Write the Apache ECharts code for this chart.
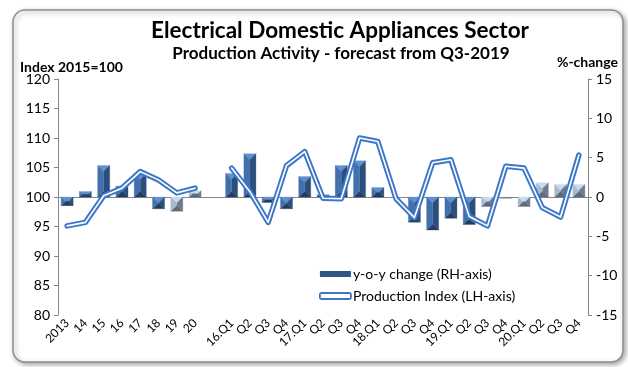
<!DOCTYPE html>
<html>
<head>
<meta charset="utf-8">
<script src="https://cdn.jsdelivr.net/npm/echarts@6/dist/echarts.min.js"></script>
<style>
  html, body { margin: 0; padding: 0; background: #fff; }
  #chart { width: 628px; height: 367px; }
</style>
</head>
<body>
<div id="chart"></div>
<script>
// categories: annual block, an empty gap, then quarters
var categories = ['2013', '14', '15', '16', '17', '18', '19', '20', '',
  '16.Q1', 'Q2', 'Q3', 'Q4', '17.Q1', 'Q2', 'Q3', 'Q4',
  '18.Q1', 'Q2', 'Q3', 'Q4', '19.Q1', 'Q2', 'Q3', 'Q4',
  '20.Q1', 'Q2', 'Q3', 'Q4'];

// production index, 2015=100 (LH axis)
var productionIndex = [95.1, 95.7, 100.2, 101.5, 104.3, 102.9, 100.7, 101.5, null,
  104.9, 100.9, 95.7, 105.3, 107.7, 99.8, 99.7, 110.0,
  109.4, 99.7, 96.5, 105.8, 106.3, 96.7, 95.1, 105.2,
  104.9, 98.2, 96.6, 107.1];

// y-o-y change in %, actual figures (RH axis)
var yoyActual = [-1.1, 0.7, 4.0, 1.4, 3.0, -1.5, null, null, null,
  3.0, 5.5, -0.7, -1.5, 2.6, 0.3, 4.0, 4.6,
  1.2, 0, -3.2, -4.2, -2.7, -3.5, null, null,
  null, null, null, null];

// y-o-y change in %, forecast figures (RH axis)
var yoyForecast = [null, null, null, null, null, null, -1.8, 0.8, null,
  null, null, null, null, null, null, null, null,
  null, null, null, null, null, null, -1.2, -0.1,
  -1.2, 1.8, 1.6, 1.6];

var leftTicks = { min: 80, max: 120, step: 5 };
var rightTicks = { min: -15, max: 15, step: 5 };

var FONT = 'Lato, "Open Sans", sans-serif';
var BAR_NAME = 'y-o-y change (RH-axis)';
var LINE_NAME = 'Production Index (LH-axis)';

// bevelled bar: four faces meeting at a ridge
function bevelBar(faces) {
  return function (params, api) {
    var v = api.value(1);
    if (v == null || isNaN(v)) return;
    var i = api.value(0);
    var top = api.coord([i, v]);
    var base = api.coord([i, 0]);
    var bw = api.size([1, 0])[0] * 0.66;
    var x0 = top[0] - bw / 2, x1 = top[0] + bw / 2;
    var y0 = Math.min(top[1], base[1]), y1 = Math.max(top[1], base[1]);
    if (y1 - y0 < 0.5) return;
    if (y1 - y0 < 1.2) y1 = y0 + 1.2;
    var h = y1 - y0;
    var cx = (x0 + x1) / 2, cy = (y0 + y1) / 2;
    var LT, RT, LB, RB;
    if (h >= bw) {
      LT = RT = [cx, y0 + bw / 2];
      LB = RB = [cx, y1 - bw / 2];
    } else {
      LT = LB = [x0 + h / 2, cy];
      RT = RB = [x1 - h / 2, cy];
    }
    function face(pts, c) {
      return { type: 'polygon', shape: { points: pts }, style: { fill: c, stroke: c, lineWidth: 0.3 } };
    }
    return {
      type: 'group',
      children: [
        face([[x0, y0], [x1, y0], RT, LT], faces.top),
        face([[x1, y0], [x1, y1], RB, RT], faces.right),
        face([[x1, y1], [x0, y1], LB, RB], faces.bottom),
        face([[x0, y1], [x0, y0], LT, LB], faces.left)
      ]
    };
  };
}

function pairs(arr) {
  return arr.map(function (v, i) { return [i, v]; });
}

var chart = echarts.init(document.getElementById('chart'));

chart.setOption({
  animation: false,
  textStyle: { fontFamily: FONT },
  graphic: [
    {
      type: 'rect', z: -10, silent: true,
      shape: { x: 13, y: 10, width: 610, height: 352, r: 12 },
      style: { fill: '#fff', stroke: '#8e8e8e', lineWidth: 1.5,
        shadowBlur: 5, shadowOffsetX: 2, shadowOffsetY: 2, shadowColor: 'rgba(0,0,0,0.35)' }
    },
    {
      type: 'text', x: 340, y: 31, z: 10,
      style: { text: 'Electrical Domestic Appliances Sector', font: 'bold 22.5px ' + FONT, fill: '#000',
        align: 'center', verticalAlign: 'middle' }
    },
    {
      type: 'text', x: 341, y: 54, z: 10,
      style: { text: 'Production Activity - forecast from Q3-2019', font: 'bold 17px ' + FONT,
        fill: '#000', align: 'center', verticalAlign: 'middle' }
    },
    {
      type: 'text', x: 20, y: 67, z: 10,
      style: { text: 'Index 2015=100', font: 'bold 14px ' + FONT, fill: '#000', verticalAlign: 'middle' }
    },
    {
      type: 'text', x: 618, y: 62, z: 10,
      style: { text: '%-change', font: 'bold 14px ' + FONT, fill: '#000', align: 'right', verticalAlign: 'middle' }
    }
  ],
  grid: { left: 58, right: 40, top: 79, bottom: 52 },
  legend: {
    orient: 'vertical',
    left: 319, top: 267, padding: 0,
    itemWidth: 31, itemHeight: 6, itemGap: 8,
    textStyle: { fontSize: 14, color: '#000', fontFamily: FONT, padding: [0, 0, 0, -3] },
    data: [
      { name: BAR_NAME, icon: 'rect', itemStyle: { color: '#2f5585' } },
      { name: LINE_NAME, icon: 'roundRect',
        itemStyle: { color: '#fff', borderColor: '#3d78c6', borderWidth: 1.8 } }
    ]
  },
  xAxis: {
    type: 'category',
    data: categories,
    boundaryGap: true,
    axisLine: { lineStyle: { color: '#868686' } },
    axisTick: { show: false },
    axisLabel: { interval: 0, rotate: 45, fontSize: 12, color: '#000', margin: 6 }
  },
  yAxis: [
    {
      type: 'value', min: leftTicks.min, max: leftTicks.max, interval: leftTicks.step,
      axisLine: { show: true, lineStyle: { color: '#868686' } },
      axisTick: { show: true, length: 4, lineStyle: { color: '#868686' } },
      axisLabel: { fontSize: 14, color: '#000', margin: 8 },
      splitLine: { show: false }
    },
    {
      type: 'value', min: rightTicks.min, max: rightTicks.max, interval: rightTicks.step,
      position: 'right',
      axisLine: { show: true, lineStyle: { color: '#868686' } },
      axisTick: { show: true, length: 4, lineStyle: { color: '#868686' } },
      axisLabel: { fontSize: 14, color: '#000', margin: 8 },
      splitLine: { show: false }
    }
  ],
  series: [
    {
      name: BAR_NAME, type: 'custom', yAxisIndex: 1, z: 2,
      encode: { x: 0, y: 1 },
      itemStyle: { color: '#2f5585' },
      renderItem: bevelBar({ top: '#5f91d2', left: '#4170ad', right: '#2c4e7c', bottom: '#223e62' }),
      data: pairs(yoyActual)
    },
    {
      name: BAR_NAME, type: 'custom', yAxisIndex: 1, z: 2,
      encode: { x: 0, y: 1 },
      itemStyle: { color: '#2f5585' },
      renderItem: bevelBar({ top: '#c7daf2', left: '#a9bace', right: '#6e7b8a', bottom: '#5e6b79' }),
      data: pairs(yoyForecast)
    },
    {
      name: LINE_NAME, type: 'line', yAxisIndex: 0, z: 5,
      data: productionIndex,
      symbol: 'none',
      connectNulls: false,
      lineStyle: { color: '#3d78c6', width: 5.5, cap: 'round', join: 'round' }
    },
    {
      name: 'inner', type: 'line', yAxisIndex: 0, z: 6,
      data: productionIndex,
      symbol: 'none',
      connectNulls: false,
      lineStyle: { color: '#fff', width: 1.6, cap: 'round', join: 'round' }
    }
  ]
});
</script>
</body>
</html>
